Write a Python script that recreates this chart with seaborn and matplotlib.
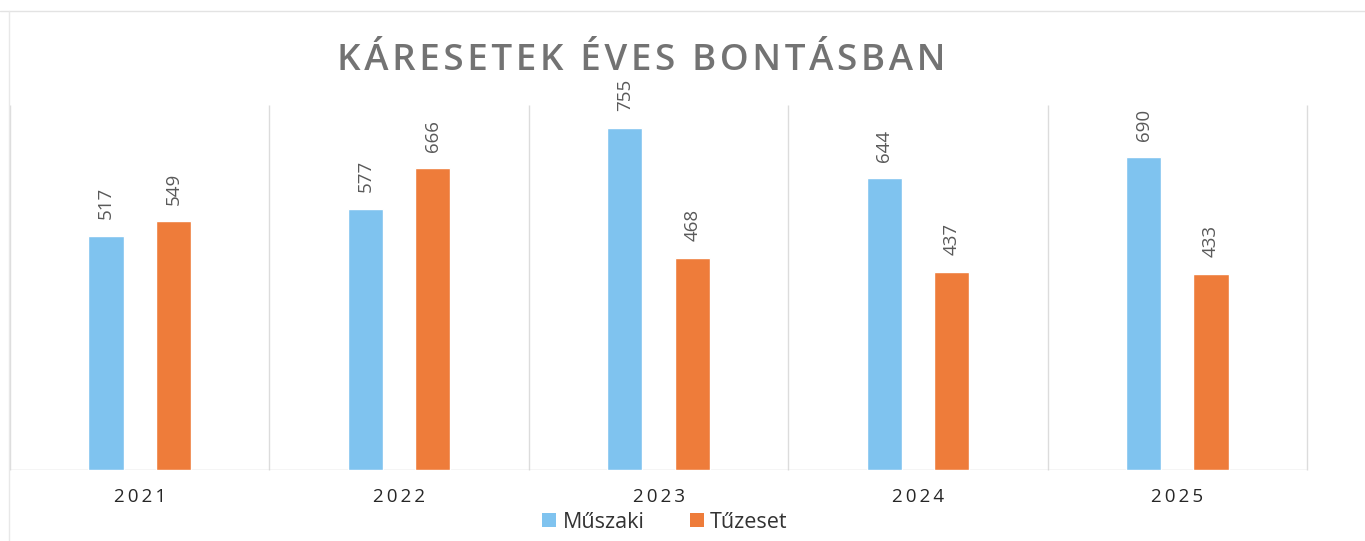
import matplotlib
matplotlib.use("Agg")
import matplotlib.pyplot as plt
import seaborn as sns
import pandas as pd
from matplotlib.patches import Patch
from matplotlib.lines import Line2D

years = ["2021", "2022", "2023", "2024", "2025"]
muszaki = [517, 577, 755, 644, 690]
tuzeset = [549, 666, 468, 437, 433]
series_names = ["Műszaki", "Tűzeset"]
title_text = "KÁRESETEK ÉVES BONTÁSBAN"

colors = {"Műszaki": "#7FC3EF", "Tűzeset": "#EE7C3A"}

df = pd.DataFrame({
    "year": years * 2,
    "value": muszaki + tuzeset,
    "series": [series_names[0]] * len(years) + [series_names[1]] * len(years),
})

sns.set_style("white")
FAM = ["Open Sans", "DejaVu Sans"]
plt.rcParams["font.family"] = FAM

fig = plt.figure(figsize=(13.65, 5.41), dpi=100)
ax = fig.add_axes([10 / 1365, 1 - 470 / 541, 1297 / 1365, (470 - 107.6) / 541])

sns.barplot(data=df, x="year", y="value", hue="series", order=years,
            hue_order=series_names, palette=colors, width=0.52, gap=0.48,
            ax=ax, legend=False, saturation=1)

ax.set_xlim(-0.5, len(years) - 0.5)
ax.set_ylim(0, 800)
for s in ax.spines.values():
    s.set_visible(False)
ax.set_yticks([])
ax.set_xlabel("")
ax.set_ylabel("")

# category separators and baseline
ax.vlines([i - 0.5 for i in range(len(years) + 1)], 0, 805, colors="#dcdcdc",
          linewidth=1, clip_on=False, zorder=0)
ax.axhline(0, color="#d0d0d0", linewidth=1, zorder=0)

# tick labels with letter spacing
thin = "\u2009"
hair = "\u200a"
ax.set_xticks(range(len(years)))
ax.set_xticklabels([thin.join(y) for y in years], fontsize=13.5, color="#262626")
ax.tick_params(axis="x", length=0, pad=13)

# value labels
for cont in ax.containers:
    for bar in cont:
        h = bar.get_height()
        ax.annotate(f"{int(round(h))}", (bar.get_x() + bar.get_width() / 2, h),
                    xytext=(0, 12), textcoords="offset points",
                    rotation=90, ha="center", va="bottom",
                    fontsize=13.5, color="#595959")

# title
fig.text(641 / 1365, 1 - 61 / 541, hair.join(title_text), ha="center", va="center",
         fontsize=26.5, fontweight="semibold", color="#737373", family=FAM)

# legend
handles = [Patch(facecolor=colors[n], edgecolor="none") for n in series_names]
fig.legend(handles, series_names, loc="center", bbox_to_anchor=(665 / 1365, 1 - 522 / 541),
           ncol=2, frameon=False, fontsize=15.5, handlelength=0.65, handleheight=0.65,
           handletextpad=0.3, columnspacing=2.1, labelcolor="#333333")

# faint chart frame
fig.add_artist(Line2D([0, 1], [1 - 11 / 541, 1 - 11 / 541], transform=fig.transFigure,
                      color="#e3e3e3", linewidth=1))
fig.add_artist(Line2D([9 / 1365, 9 / 1365], [0, 1 - 11 / 541], transform=fig.transFigure,
                      color="#e8e8e8", linewidth=1))

fig.savefig("out.png", dpi=100, facecolor="white")
